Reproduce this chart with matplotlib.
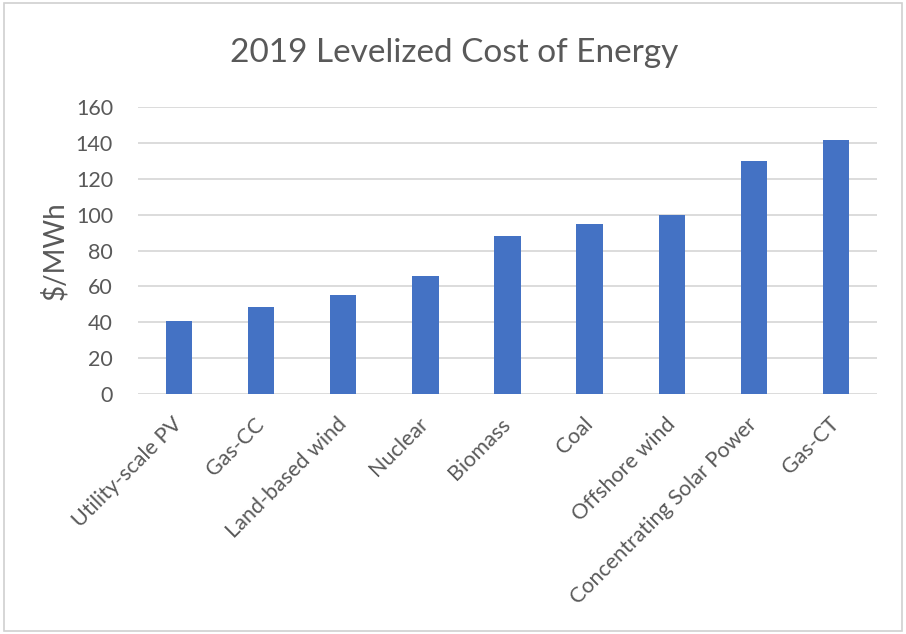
import matplotlib
matplotlib.use("Agg")
import matplotlib.pyplot as plt
import matplotlib.transforms as mtransforms
from matplotlib.patches import Rectangle

categories = ["Utility-scale PV", "Gas-CC", "Land-based wind", "Nuclear", "Biomass",
              "Coal", "Offshore wind", "Concentrating Solar Power", "Gas-CT"]
values = [41, 48.5, 55, 66, 88, 95, 100, 130, 142]
yticks = [0, 20, 40, 60, 80, 100, 120, 140, 160]

plt.rcParams['font.family'] = ['Lato', 'DejaVu Sans']
text_color = '#595959'

fig = plt.figure(figsize=(9.06, 6.34), dpi=100)
ax = fig.add_axes([0.1523, 0.3785, 0.968 - 0.1523, 0.8308 - 0.3785])

x = list(range(len(categories)))
ax.bar(x, values, width=0.32, color='#4472C4', zorder=3)
ax.set_xlim(-0.5, len(categories) - 0.5)
ax.set_ylim(0, 160)
ax.set_yticks(yticks)
ax.set_yticklabels([str(v) for v in yticks], fontsize=15.5, color=text_color)
ax.set_xticks(x)
ax.set_xticklabels(categories, rotation=45, ha='right', rotation_mode='anchor',
                   fontsize=15.5, color=text_color)
ax.tick_params(axis='y', length=0, pad=18)
ax.tick_params(axis='x', length=0, pad=15)
offset = mtransforms.ScaledTranslation(-7 / 100, 1 / 100, fig.dpi_scale_trans)
for lbl in ax.get_xticklabels():
    lbl.set_transform(lbl.get_transform() + offset)
ax.grid(axis='y', color='#D9D9D9', linewidth=1.3, zorder=0)
for s in ax.spines.values():
    s.set_visible(False)
ax.set_ylabel("$/MWh", fontsize=20, color=text_color)
ax.yaxis.set_label_coords(-0.095, 0.5)

fig.text(0.501, 0.917, "2019 Levelized Cost of Energy", ha='center', va='center',
         fontsize=24, color=text_color)

fig.patches.append(Rectangle((0.004, 0.005), 0.992, 0.99, transform=fig.transFigure,
                             fill=False, edgecolor='#D0D0D0', linewidth=1.2))

fig.savefig("out.png", dpi=100)
